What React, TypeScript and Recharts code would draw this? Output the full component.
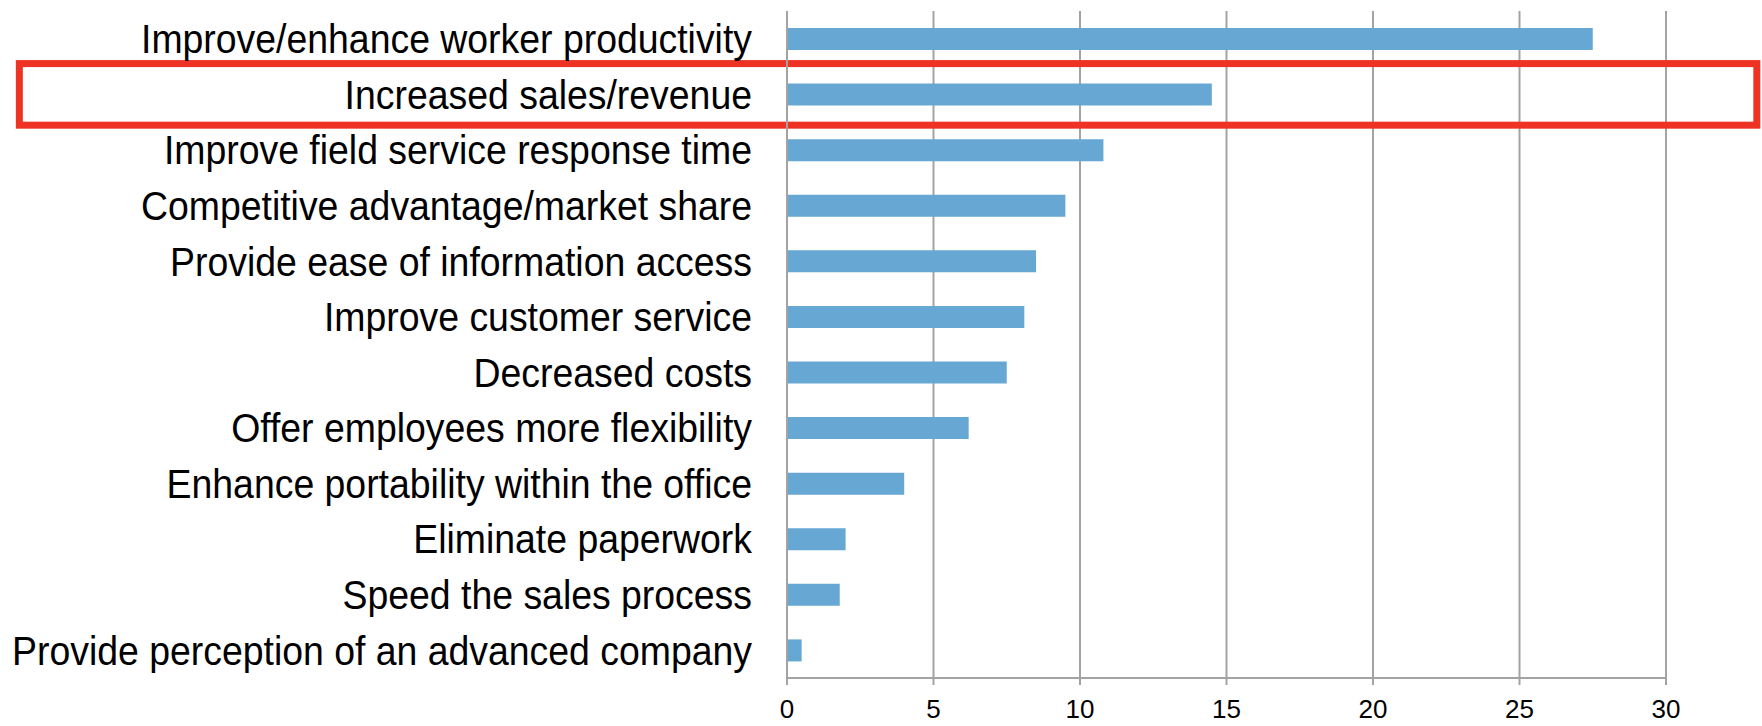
import React from 'react';
import {
  BarChart, Bar, XAxis, YAxis, CartesianGrid, ReferenceArea,
} from 'recharts';

const categories = [
  'Improve/enhance worker productivity',
  'Increased sales/revenue',
  'Improve field service response time',
  'Competitive advantage/market share',
  'Provide ease of information access',
  'Improve customer service',
  'Decreased costs',
  'Offer employees more flexibility',
  'Enhance portability within the office',
  'Eliminate paperwork',
  'Speed the sales process',
  'Provide perception of an advanced company',
];
const values = [27.5, 14.5, 10.8, 9.5, 8.5, 8.1, 7.5, 6.2, 4.0, 2.0, 1.8, 0.5];
const xTicks = [0, 5, 10, 15, 20, 25, 30];
// boundaries between category bands (Excel-style tick marks)
const bandEdges = [0, 1, 2, 3, 4, 5, 6, 7, 8, 9, 10, 11, 12];
const highlight = 'Increased sales/revenue';
const highlightSpan = [-26.2, 33.1];

const rows = categories.map((name, i) => ({ name, value: values[i] }));

const FONT = '"Liberation Sans", Arial, Helvetica, sans-serif';
const GRID = '#a3a3a3';
const BLUE = '#67a7d3';
const RED = '#ee3224';

function CatTick({ x, y, payload }: any) {
  return (
    <g transform={`translate(${x - 35},${y}) scale(1,1.07)`}>
      <text x={0} y={0} dy={13.5} textAnchor="end" fill="#000" fontSize={37.4} fontFamily={FONT}>
        {payload.value}
      </text>
    </g>
  );
}

function Box(p: any) {
  return (
    <rect x={p.x} y={p.y - 3} width={p.width} height={p.height + 6}
      fill="none" stroke={RED} strokeWidth={7} />
  );
}

export default function App() {
  return (
    <div style={{ position: 'absolute', left: 0, top: 0, background: '#fff' }}>
      <BarChart width={1762} height={726} data={rows} layout="vertical"
        margin={{ top: 11, right: 96, bottom: 0, left: 0 }}>
        <CartesianGrid horizontal={false} stroke={GRID} strokeWidth={2} />
        <XAxis type="number" domain={[0, 30]} ticks={xTicks} height={48}
          axisLine={{ stroke: GRID, strokeWidth: 2 }}
          tickLine={{ stroke: GRID, strokeWidth: 2 }} tickSize={7} tickMargin={15}
          tick={{ fill: '#000', fontSize: 26, fontFamily: FONT }} />
        <YAxis yAxisId="edges" type="number" domain={[0, 12]} ticks={bandEdges}
          width={0} tick={false} axisLine={false}
          tickLine={{ stroke: GRID, strokeWidth: 2 }} tickSize={10} />
        <YAxis type="category" dataKey="name" width={787} interval={0}
          axisLine={{ stroke: GRID, strokeWidth: 2 }} tickLine={false}
          tickSize={0} tickMargin={0} tick={<CatTick />} />
        <ReferenceArea y1={highlight} y2={highlight} x1={highlightSpan[0]} x2={highlightSpan[1]}
          ifOverflow="visible" shape={<Box />} />
        <Bar dataKey="value" fill={BLUE} barSize={22} isAnimationActive={false} />
      </BarChart>
    </div>
  );
}
